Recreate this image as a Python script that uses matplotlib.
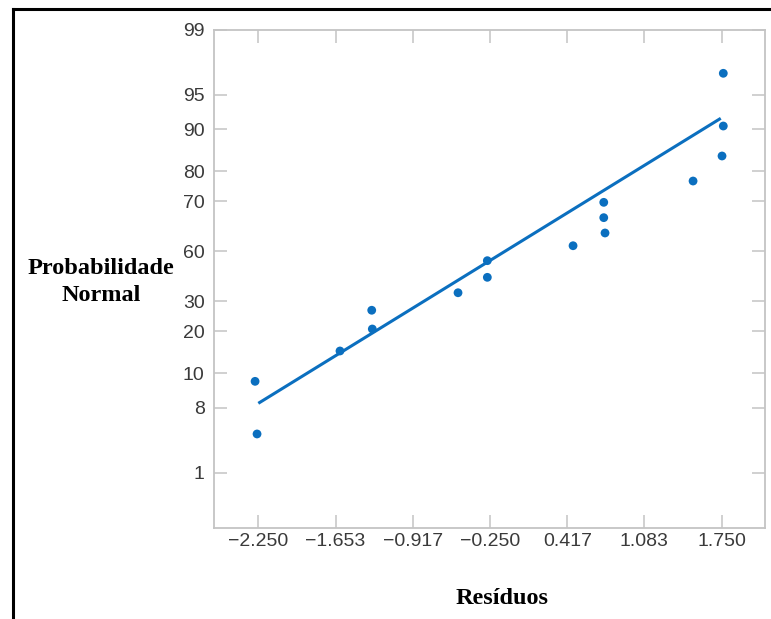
import matplotlib
matplotlib.use('Agg')
import matplotlib.pyplot as plt
from matplotlib.lines import Line2D

# residuals (x) and their normal scores (y, in z units)
residuos = [-2.278, -2.261, -1.545, -1.271, -1.266, -0.526, -0.273, -0.273,
            0.467, 0.732, 0.732, 0.743, 1.503, 1.753, 1.764, 1.764]
escores = [-1.366, -1.919, -1.047, -0.619, -0.816, -0.435, -0.273, -0.098,
           0.059, 0.515, 0.354, 0.193, 0.739, 1.002, 1.317, 1.871]

# fitted line end points
reta_x = [-2.250, 1.742]
reta_y = [-1.597, 1.398]

# axis ticks (x evenly spaced, y on normal-probability scale)
x_ticks = [-2.250, -1.5833, -0.917, -0.250, 0.417, 1.083, 1.750]
x_labels = ['\u22122.250', '\u22121.653', '\u22120.917', '\u22120.250', '0.417', '1.083', '1.750']
y_ticks = [2.326, 1.645, 1.282, 0.842, 0.524, 0.0, -0.524, -0.842, -1.282, -1.645, -2.326]
y_labels = ['99', '95', '90', '80', '70', '60', '30', '20', '10', '8', '1']

blue = '#0b6fbf'
gray = '#c4c4c4'

fig = plt.figure(figsize=(7.71, 6.19), dpi=100)
ax = fig.add_axes([214.3 / 771, 1 - 527.7 / 619, (765 - 214.3) / 771, (527.7 - 30) / 619])

ax.plot(reta_x, reta_y, color=blue, lw=2.2, solid_capstyle='butt', zorder=2)
ax.scatter(residuos, escores, s=40, color=blue, edgecolors='none', zorder=3)

ax.set_xlim(-2.630, 2.124)
ax.set_ylim(-2.904, 2.326)
ax.set_xticks(x_ticks)
ax.set_xticklabels(x_labels)
ax.set_yticks(y_ticks)
ax.set_yticklabels(y_labels)

for s in ax.spines.values():
    s.set_color(gray)
    s.set_linewidth(1.3)
ax.tick_params(direction='in', length=9.5, width=1.1, color=gray,
               top=True, right=True, labelsize=14, labelcolor='#3a3a3a')
ax.tick_params(axis='y', pad=7)
ax.tick_params(axis='x', pad=4)
for lab in ax.get_xticklabels() + ax.get_yticklabels():
    lab.set_family('Liberation Sans')

fig.text(101 / 771, 1 - 282 / 619, 'Probabilidade\nNormal', ha='center', va='center',
         family='Liberation Serif', fontweight='bold', fontsize=17.5, linespacing=1.4)
fig.text(502 / 771, 1 - 598 / 619, 'Resíduos', ha='center', va='center',
         family='Liberation Serif', fontweight='bold', fontsize=17.5)

# black frame around the picture (top and left only visible)
fig.add_artist(Line2D([12.5 / 771, 1.0], [1 - 9 / 619, 1 - 9 / 619], color='black', lw=2.2,
                      transform=fig.transFigure))
fig.add_artist(Line2D([12.5 / 771, 12.5 / 771], [1 - 9 / 619, 0.0], color='black', lw=2.2,
                      transform=fig.transFigure))

fig.savefig('out.png', dpi=100)
